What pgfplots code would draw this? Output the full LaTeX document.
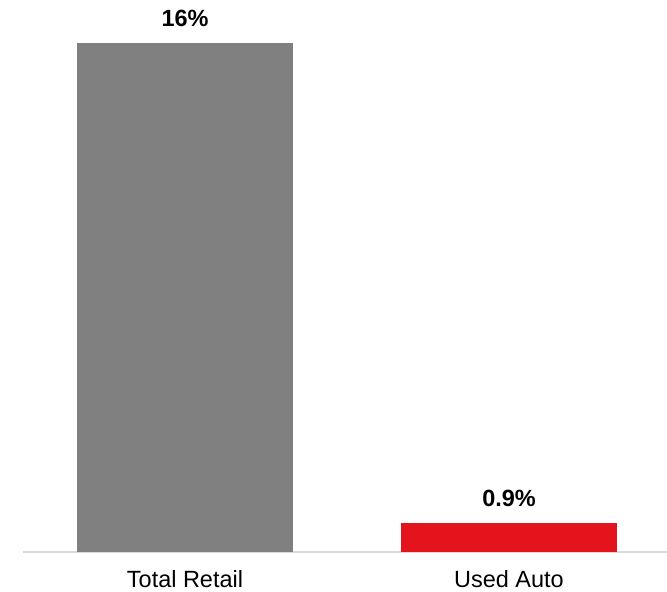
\documentclass[border=0pt]{standalone}
\usepackage{fontspec}
\setmainfont{Liberation Sans}
\usepackage{pgfplots}
\pgfplotsset{compat=1.18}
\definecolor{barGray}{RGB}{128,128,128}
\definecolor{barRed}{RGB}{228,20,28}
\definecolor{axGray}{RGB}{217,217,217}
\begin{document}
\begin{tikzpicture}
\useasboundingbox (0,0) rectangle (500.25pt,444pt);
\begin{axis}[
  at={(17.25pt,30pt)}, anchor=south west,
  scale only axis,
  width=483pt, height=381.75pt,
  xmin=-0.5, xmax=1.4877,
  ymin=0, ymax=16,
  clip=false,
  axis x line*=bottom,
  axis y line=none,
  x axis line style={draw=axGray, line width=1.5pt, -},
  xtick={0,1},
  xticklabels={Total Retail, Used Auto},
  major tick length=0pt,
  xticklabel style={font=\fontsize{17.6}{20}\selectfont, anchor=north, inner sep=0pt, yshift=-13.5pt},
  ytick=\empty,
  ybar, bar width=162pt, bar shift=0pt,
  point meta=explicit symbolic,
  nodes near coords,
  every node near coord/.append style={font=\fontsize{17.6}{20}\selectfont\bfseries, anchor=base, inner sep=0pt, yshift=12.5pt, text=black},
]
\addplot[fill=barGray, draw=none] coordinates {(0,16) [16\%]};
\addplot[fill=barRed, draw=none] coordinates {(1,0.9) [0.9\%]};
\end{axis}
\end{tikzpicture}
\end{document}
